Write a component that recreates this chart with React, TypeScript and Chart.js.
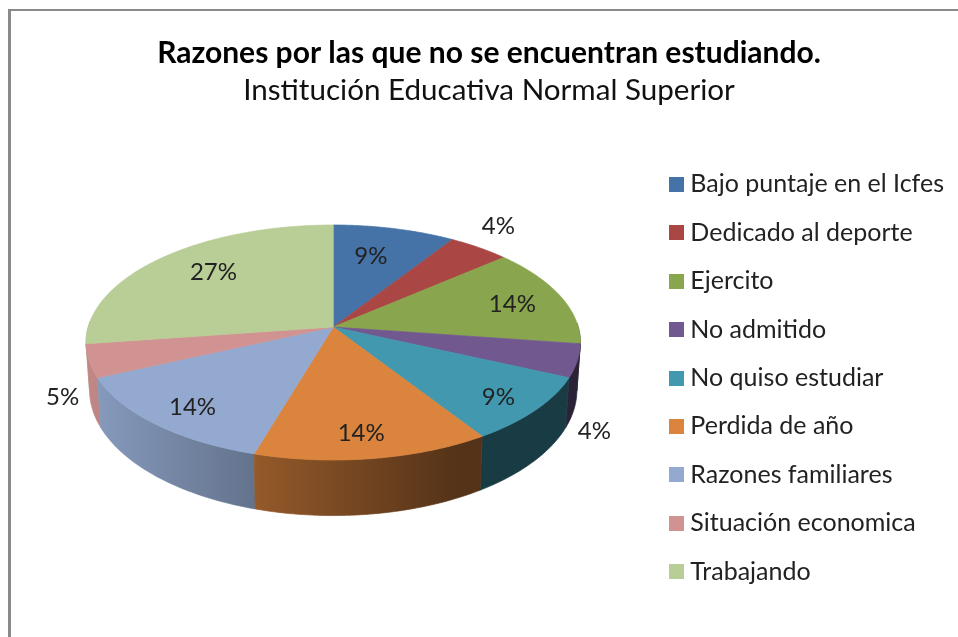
import React, { useEffect, useRef } from "react";
import { Chart, registerables } from "chart.js";

Chart.register(...registerables);

const titleText = "Razones por las que no se encuentran estudiando.";
const subtitleText = "Institución Educativa Normal Superior";
const categories = ["Bajo puntaje en el Icfes", "Dedicado al deporte", "Ejercito", "No admitido", "No quiso estudiar", "Perdida de año", "Razones familiares", "Situación economica", "Trabajando"];
const sliceValues = [9.09, 4.55, 13.64, 4.55, 9.09, 13.64, 13.64, 4.55, 27.27];
const shownPercents = [9, 4, 14, 4, 9, 14, 14, 5, 27];
const sliceColors = ["#4572A7", "#AA4643", "#89A54E", "#71588F", "#4198AF", "#DB843D", "#93A9CF", "#D19392", "#B9CD96"];
// label placement: fraction of the radius, and degrees away from the slice's middle
const labelRadius = [0.692, 1.242, 0.778, 1.25, 0.841, 0.827, 0.828, 1.168, 0.728];
const labelShift = [-2.4, -3.1, 1.2, 24, 1.2, 1.1, -1.5, -12.6, 3.3];

const FONT = "Lato, 'Open Sans', sans-serif";
const CANVAS_LEFT = 10;
const CENTER_DX = -5;
const APEX_Y = 327;
const PERSP = -0.132;
const TOP_A = 72.3;
const BOTTOM_A = 74.2;
const BOTTOM_B = 373.3;
const BOTTOM_SHRINK = 0.986;

const project = (arc: any, theta: number, r = 1) => {
  const u = Math.cos(theta) * r;
  const v = Math.sin(theta) * r;
  const w = 1 + PERSP * v;
  return { x: arc.x + CENTER_DX + (arc.outerRadius * u) / w, y: (TOP_A * v + APEX_Y) / w };
};
const projectBottom = (arc: any, theta: number) => {
  const u = Math.cos(theta);
  const v = Math.sin(theta);
  const w = 1 + PERSP * v;
  return { x: arc.x + CENTER_DX + (arc.outerRadius * BOTTOM_SHRINK * u) / w, y: (BOTTOM_A * v + BOTTOM_B) / w };
};
const shade = (hex: string, f: number) => {
  const n = parseInt(hex.slice(1), 16);
  const c = [(n >> 16) & 255, (n >> 8) & 255, n & 255].map((k) => Math.round(k * f));
  return `rgb(${c[0]},${c[1]},${c[2]})`;
};

const pie3d = {
  id: "pie3d",
  beforeDatasetDraw(chart: any, args: any) {
    const ctx = chart.ctx;
    const arcs = chart.getDatasetMeta(args.index).data;
    const step = Math.PI / 180;
    const visibleAngles = (arc: any) => {
      const list: number[] = [];
      for (let t = arc.startAngle; t < arc.endAngle; t += step) {
        if (Math.sin(t) > -0.05) list.push(t);
      }
      if (Math.sin(arc.endAngle) > -0.05) list.push(arc.endAngle);
      return list;
    };
    const walls = arcs
      .map((arc: any, i: number) => ({ arc, i, angles: visibleAngles(arc) }))
      .filter((w: any) => w.angles.length > 1)
      .map((w: any) => ({ ...w, depth: Math.max(...w.angles.map((t: number) => Math.sin(t))) }))
      .sort((a: any, b: any) => a.depth - b.depth);
    ctx.save();
    ctx.lineWidth = 0.7;
    ctx.lineJoin = "round";
    walls.forEach(({ arc, i, angles }: any) => {
      const g = ctx.createLinearGradient(90 - CANVAS_LEFT, 0, 570 - CANVAS_LEFT, 0);
      g.addColorStop(0, shade(sliceColors[i], 0.92));
      g.addColorStop(0.76, shade(sliceColors[i], 0.39));
      g.addColorStop(1, shade(sliceColors[i], 0.39));
      ctx.fillStyle = g;
      ctx.strokeStyle = g;
      ctx.beginPath();
      angles.forEach((t: number, k: number) => {
        const p = project(arc, t);
        if (k === 0) ctx.moveTo(p.x, p.y);
        else ctx.lineTo(p.x, p.y);
      });
      [...angles].reverse().forEach((t: number) => {
        const p = projectBottom(arc, t);
        ctx.lineTo(p.x, p.y);
      });
      ctx.closePath();
      ctx.fill();
      ctx.stroke();
    });
    arcs.forEach((arc: any, i: number) => {
      ctx.fillStyle = sliceColors[i];
      ctx.strokeStyle = sliceColors[i];
      ctx.beginPath();
      const o = project(arc, 0, 0);
      ctx.moveTo(o.x, o.y);
      for (let t = arc.startAngle; t < arc.endAngle; t += step / 2) {
        const p = project(arc, t);
        ctx.lineTo(p.x, p.y);
      }
      const p = project(arc, arc.endAngle);
      ctx.lineTo(p.x, p.y);
      ctx.closePath();
      ctx.fill();
      ctx.stroke();
    });
    ctx.restore();
    return false;
  },
  afterDatasetsDraw(chart: any) {
    const ctx = chart.ctx;
    const arcs = chart.getDatasetMeta(0).data;
    ctx.save();
    ctx.font = `24px ${FONT}`;
    ctx.fillStyle = "#222222";
    ctx.textAlign = "center";
    ctx.textBaseline = "middle";
    arcs.forEach((arc: any, i: number) => {
      const mid = (arc.startAngle + arc.endAngle) / 2 + (labelShift[i] * Math.PI) / 180;
      const p = project(arc, mid, labelRadius[i]);
      ctx.fillText(`${shownPercents[i]}%`, p.x, p.y);
    });
    ctx.restore();
  },
};

const swatch = (color: string) => {
  const c = document.createElement("canvas");
  c.width = 15;
  c.height = 15;
  const x = c.getContext("2d")!;
  x.fillStyle = color;
  x.fillRect(0, 0, 15, 15);
  return c;
};

export default function App() {
  const ref = useRef<HTMLCanvasElement | null>(null);
  useEffect(() => {
    const chart = new Chart(ref.current!, {
      type: "pie",
      data: {
        labels: categories,
        datasets: [{ data: sliceValues, backgroundColor: sliceColors, borderWidth: 0 }],
      },
      plugins: [pie3d],
      options: {
        responsive: false,
        animation: false,
        radius: 245,
        layout: { padding: { left: 14, right: 0, top: 35, bottom: 0 } },
        plugins: {
          tooltip: { enabled: false },
          title: {
            display: true,
            text: titleText,
            color: "#000000",
            font: { family: FONT, size: 30, weight: "bold", lineHeight: 1.2 },
            padding: { top: 0, bottom: 1.6 },
          },
          subtitle: {
            display: true,
            text: subtitleText,
            color: "#111111",
            font: { family: FONT, size: 29.6, weight: "normal", lineHeight: 1.2 },
            padding: { top: 0, bottom: 10 },
          },
          legend: {
            display: true,
            position: "right",
            labels: {
              usePointStyle: true,
              pointStyleWidth: 2,
              boxHeight: 15,
              padding: 23.4,
              color: "#222222",
              font: { family: FONT, size: 25 },
              generateLabels: () =>
                categories.map((text, i) => ({
                  text,
                  index: i,
                  datasetIndex: 0,
                  pointStyle: swatch(sliceColors[i]),
                  fontColor: "#222222",
                  fillStyle: sliceColors[i],
                  strokeStyle: sliceColors[i],
                  lineWidth: 0,
                  hidden: false,
                })),
            },
          },
        },
      },
    } as any);
    return () => chart.destroy();
  }, []);
  return (
    <div style={{ position: "fixed", left: 0, top: 0, width: 958, height: 637, overflow: "hidden", background: "#ffffff" }}>
      <div style={{ position: "absolute", left: 8, top: 9, width: 960, height: 640, borderLeft: "3px solid #8a8a8a", borderTop: "2px solid #8a8a8a" }} />
      <canvas ref={ref} width={944} height={721} style={{ position: "absolute", left: CANVAS_LEFT, top: 0, display: "block" }} />
    </div>
  );
}
